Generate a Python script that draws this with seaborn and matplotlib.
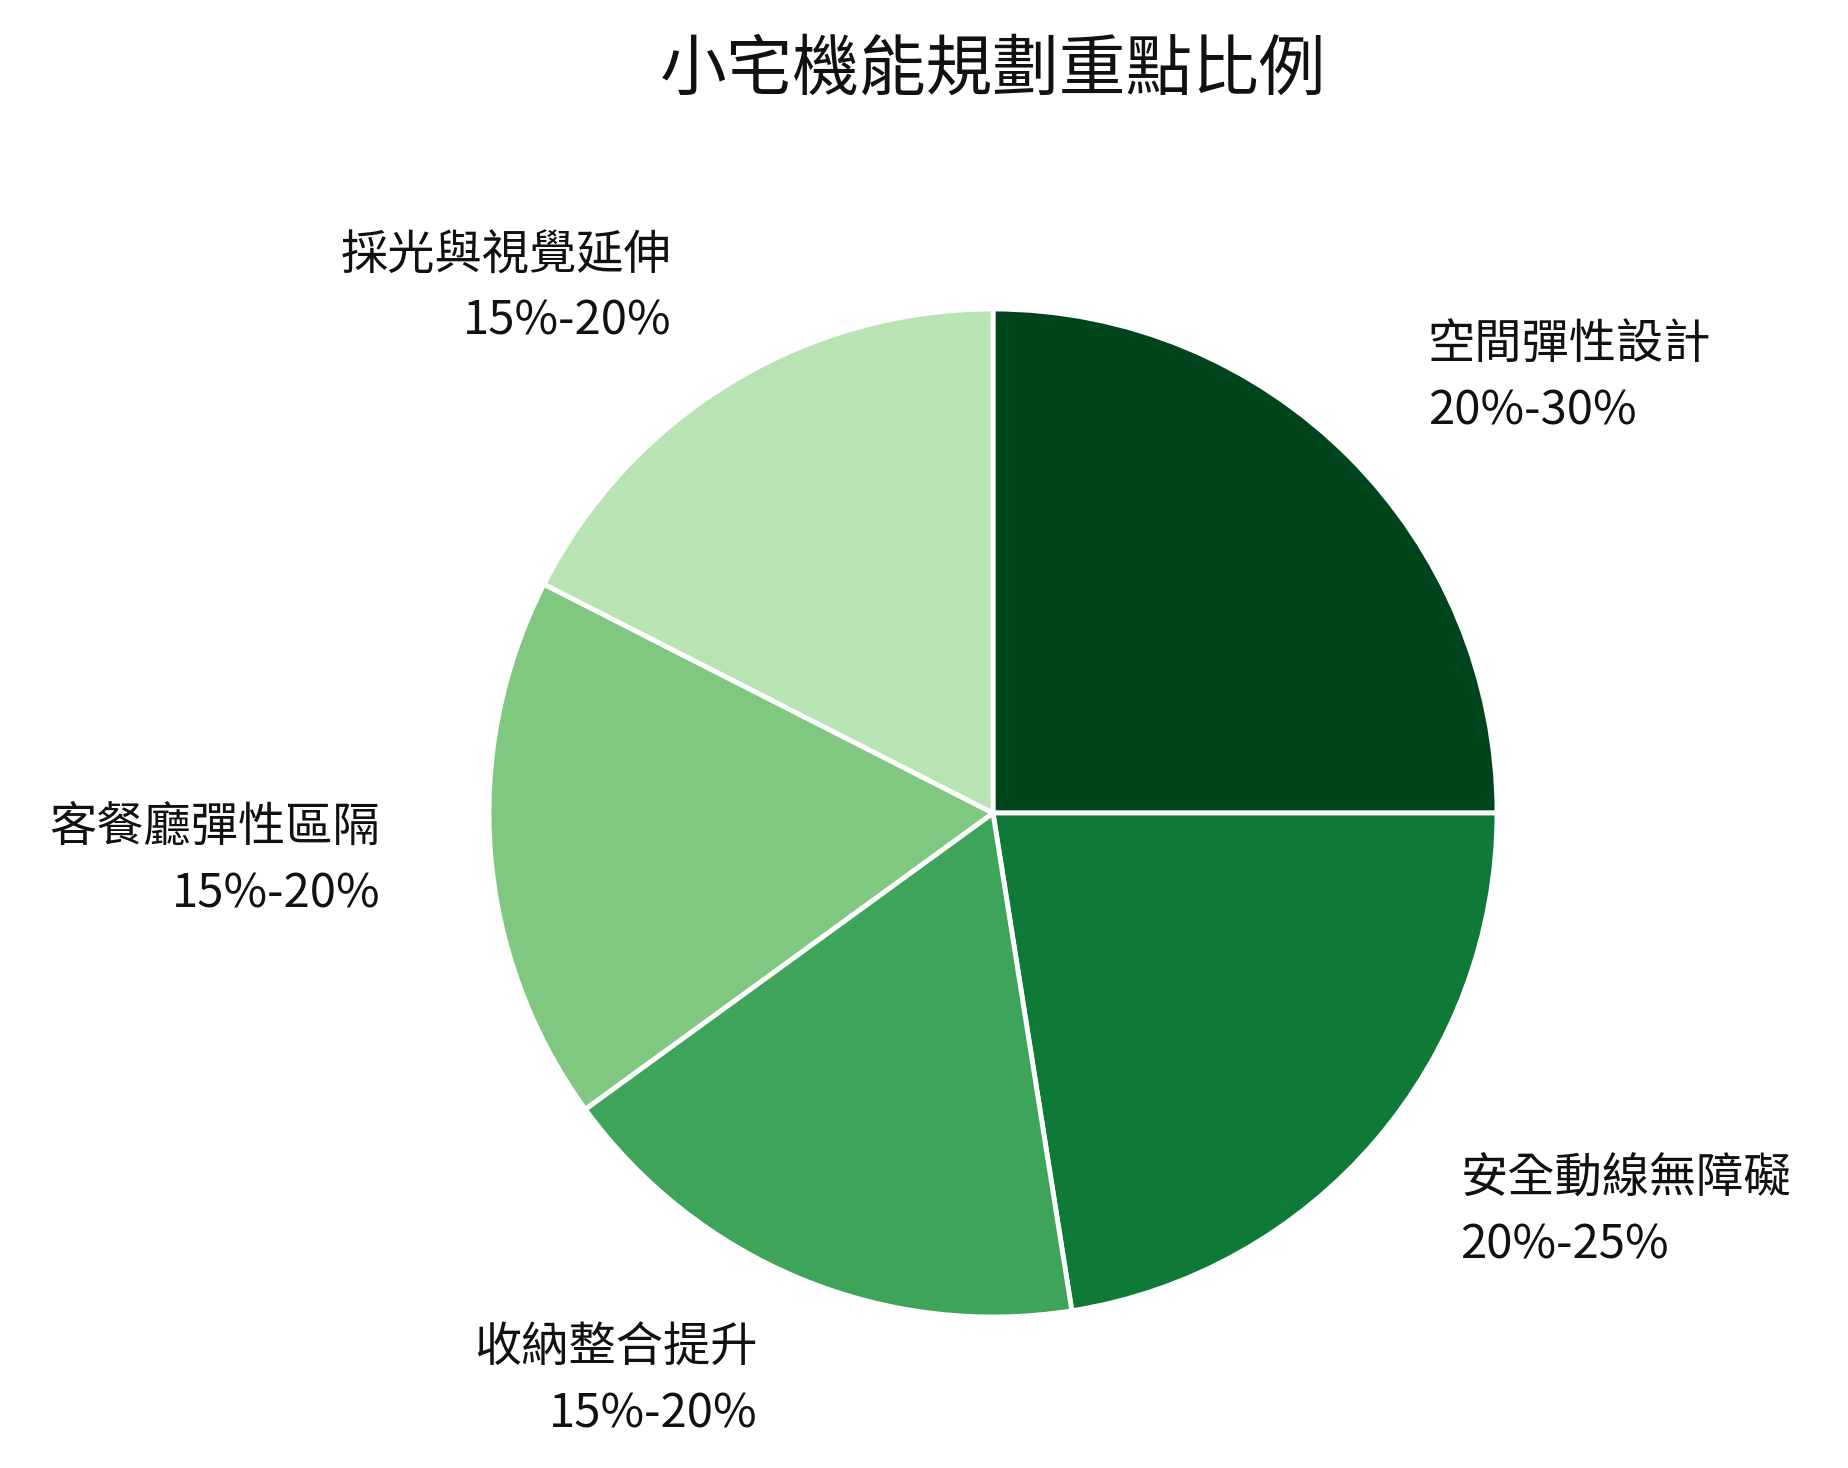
import matplotlib.pyplot as plt
import seaborn as sns

sns.set_theme(style="white")
plt.rcParams["font.family"] = "Noto Sans CJK TC"

categories = ["空間彈性設計", "安全動線無障礙", "收納整合提升", "客餐廳彈性區隔", "採光與視覺延伸"]
ranges = ["20%-30%", "20%-25%", "15%-20%", "15%-20%", "15%-20%"]
values = [25, 22.5, 17.5, 17.5, 17.5]
colors = ["#00441b", "#0f7a37", "#3da45a", "#80c77f", "#b8e3b2"]

W, H = 1849, 1468
CX, CY = 993, 655
fig = plt.figure(figsize=(W / 100, H / 100), dpi=100)
ax = fig.add_axes([0, 0, 1, 1])

labels = [f"{c}\n{r}" for c, r in zip(categories, ranges)]
wedges, texts = ax.pie(values, labels=labels, colors=colors, startangle=90,
                       counterclock=False, center=(CX, CY), radius=504,
                       labeldistance=1.22, frame=True,
                       wedgeprops={"edgecolor": "white", "linewidth": 3.5},
                       textprops={"fontsize": 34, "color": "#111111",
                                  "linespacing": 1.45})
for t in texts:
    x, _ = t.get_position()
    side = "left" if x > CX else "right"
    t.set_ha(side)
    t.set_multialignment(side)

ax.set_aspect("equal")
ax.set_xlim(0, W)
ax.set_ylim(0, H)
ax.axis("off")

fig.text(0.537, 0.952, "小宅機能規劃重點比例", ha="center", va="center",
         fontsize=48, color="#111111")
fig.savefig("out.png", dpi=100)
